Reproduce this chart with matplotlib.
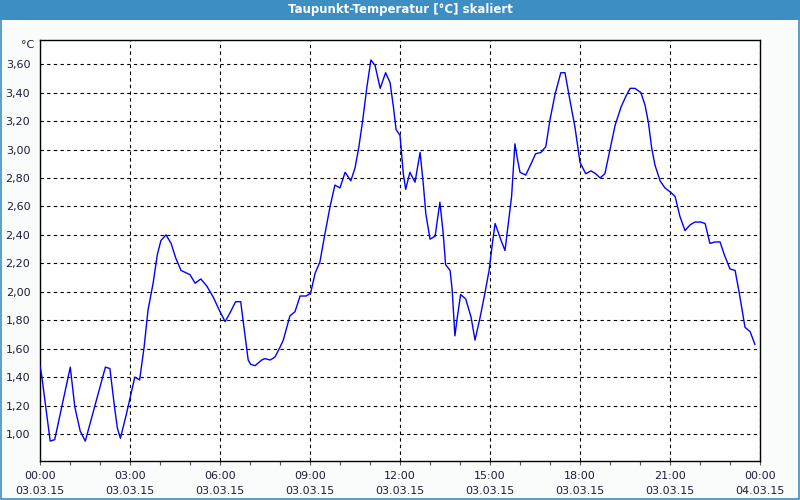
import numpy as np
import matplotlib
matplotlib.use("Agg")
import matplotlib.pyplot as plt
from matplotlib.patches import Rectangle

### Données (heures depuis 03.03.15 00:00, °C)
heures = [0.0, 0.05, 0.34, 0.49, 1.01, 1.16, 1.34, 1.51, 2.18, 2.33, 2.49, 2.58, 2.68,
          2.88, 3.01, 3.16, 3.32, 3.47, 3.6, 3.77, 3.91, 4.03, 4.2, 4.37, 4.52, 4.7,
          5.0, 5.17, 5.36, 5.56, 5.78, 6.0, 6.17, 6.33, 6.52, 6.69, 6.78, 6.94, 7.02,
          7.17, 7.39, 7.5, 7.67, 7.83, 8.0, 8.11, 8.33, 8.5, 8.67, 8.87, 9.02, 9.17,
          9.33, 9.5, 9.67, 9.83, 10.0, 10.17, 10.36, 10.5, 10.63, 10.76, 10.89, 11.03,
          11.17, 11.34, 11.52, 11.67, 11.78, 11.87, 12.0, 12.11, 12.19, 12.33, 12.5,
          12.67, 12.78, 12.86, 13.0, 13.17, 13.33, 13.44, 13.52, 13.67, 13.74, 13.83,
          13.91, 14.02, 14.19, 14.37, 14.5, 14.67, 14.83, 14.97, 15.08, 15.17, 15.37,
          15.5, 15.61, 15.72, 15.83, 15.9, 16.0, 16.19, 16.37, 16.52, 16.7, 16.86, 17.0,
          17.17, 17.36, 17.5, 17.67, 17.83, 18.0, 18.19, 18.37, 18.52, 18.67, 18.83,
          19.0, 19.17, 19.37, 19.52, 19.67, 19.83, 20.03, 20.17, 20.28, 20.39, 20.5,
          20.67, 20.83, 21.02, 21.17, 21.33, 21.5, 21.67, 21.83, 22.02, 22.17, 22.33,
          22.5, 22.67, 22.81, 23.0, 23.17, 23.31, 23.5, 23.67, 23.83]
taupunkt = [1.48, 1.42, 0.95, 0.96, 1.47, 1.19, 1.02, 0.95, 1.47, 1.46, 1.18, 1.04, 0.97,
            1.14, 1.26, 1.40, 1.38, 1.61, 1.87, 2.06, 2.26, 2.36, 2.40, 2.34, 2.24, 2.15,
            2.12, 2.06, 2.09, 2.04, 1.96, 1.86, 1.79, 1.85, 1.93, 1.93, 1.78, 1.52, 1.49,
            1.48, 1.52, 1.53, 1.52, 1.54, 1.61, 1.66, 1.83, 1.86, 1.97, 1.97, 1.99, 2.13,
            2.21, 2.41, 2.60, 2.75, 2.73, 2.84, 2.78, 2.87, 3.02, 3.21, 3.43, 3.63,
            3.59, 3.43, 3.54, 3.47, 3.30, 3.14, 3.10, 2.83, 2.72, 2.84, 2.77,
            2.98, 2.75, 2.55, 2.37, 2.39, 2.63, 2.41, 2.19, 2.15, 2.01, 1.69,
            1.82, 1.98, 1.95, 1.82, 1.66, 1.82, 1.99, 2.15, 2.34, 2.48, 2.36,
            2.29, 2.48, 2.67, 3.04, 2.95, 2.84, 2.82, 2.90, 2.97, 2.98, 3.02, 3.21,
            3.39, 3.54, 3.54, 3.34, 3.16, 2.91, 2.83, 2.85, 2.83, 2.80, 2.83,
            3.00, 3.17, 3.30, 3.37, 3.43, 3.43, 3.40, 3.31, 3.19, 3.01, 2.89,
            2.78, 2.73, 2.70, 2.67, 2.53, 2.43, 2.47, 2.49, 2.49, 2.48, 2.34,
            2.35, 2.35, 2.26, 2.16, 2.15, 1.99, 1.75, 1.72, 1.63]

tick_heures = [0, 3, 6, 9, 12, 15, 18, 21, 24]
tick_zeiten = ["00:00", "03:00", "06:00", "09:00", "12:00", "15:00", "18:00", "21:00", "00:00"]
tick_daten = ["03.03.15"] * 8 + ["04.03.15"]
y_ticks = [1.0, 1.2, 1.4, 1.6, 1.8, 2.0, 2.2, 2.4, 2.6, 2.8, 3.0, 3.2, 3.4, 3.6]

titre = "Taupunkt-Temperatur [°C] skaliert"
couleur_bandeau = '#3d8fc3'
couleur_texte = '#1c1c3c'

#############################################################
##################### Figure ################################
#############################################################

fig = plt.figure(figsize=(8, 5), dpi=100, facecolor='#f9fcfb')

# Bandeau de titre + bord bleu
fig.patches.append(Rectangle((0, 0.96), 1, 0.04, transform=fig.transFigure,
                             facecolor=couleur_bandeau, edgecolor='none', zorder=0))
fig.patches.append(Rectangle((0.001, 0.002), 0.998, 0.996, transform=fig.transFigure,
                             facecolor='none', edgecolor=couleur_bandeau, linewidth=1.2, zorder=1))
fig.text(0.5, 0.98, titre, color='white', fontsize=8.5, fontweight='bold',
         ha='center', va='center')

ax = fig.add_axes([0.05, 0.078, 0.90, 0.842])
ax.set_facecolor('white')

ax.plot(heures, taupunkt, color='#0000ff', linewidth=1.0, zorder=3)

ax.set_xlim(0, 24)
ax.set_ylim(0.81, 3.77)

ax.set_xticks(tick_heures)
ax.set_xticklabels([z + "\n" + d for z, d in zip(tick_zeiten, tick_daten)],
                   fontsize=8, color=couleur_texte, linespacing=1.7)
ax.set_xticks(np.arange(0, 25, 1), minor=True)
ax.set_yticks(y_ticks)
ax.set_yticklabels([f"{v:.2f}".replace('.', ',') for v in y_ticks],
                   fontsize=8, color=couleur_texte)

ax.tick_params(axis='x', which='both', direction='out', length=3, width=0.8,
               color='#555555', pad=4)
ax.tick_params(axis='y', length=0, pad=7)

ax.grid(True, which='major', color='black', linestyle=(0, (3, 3)), linewidth=0.8)

for s in ax.spines.values():
    s.set_linewidth(1.0)
    s.set_color('black')

fig.text(0.034, 0.91, "°C", fontsize=8, color=couleur_texte, ha='center', va='center')

plt.savefig('out.png', dpi=100, facecolor=fig.get_facecolor())
plt.close()
